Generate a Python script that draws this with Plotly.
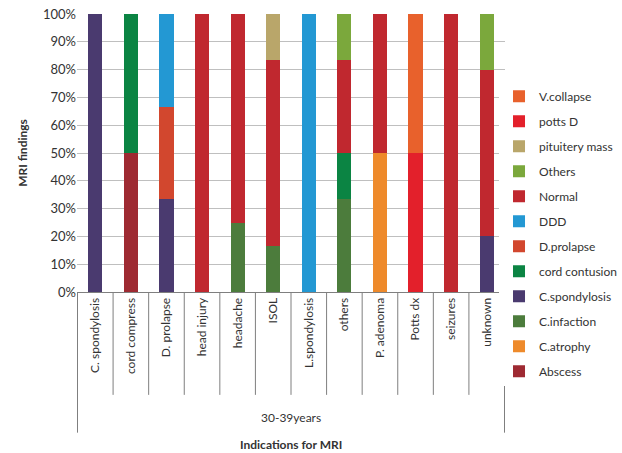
import plotly.graph_objects as go

categories = ["C. spondylosis", "cord compress", "D. prolapse", "head injury", "headache", "ISOL",
              "L.spondylosis", "others", "P. adenoma", "Potts dx", "seizures", "unknown"]
group_label = "30-39years"

# percentages per finding (bottom to top stacking order)
Abscess        = [0, 50, 0, 0, 0, 0, 0, 0, 0, 0, 0, 0]
C_atrophy      = [0, 0, 0, 0, 0, 0, 0, 0, 50, 0, 0, 0]
C_infaction    = [0, 0, 0, 0, 25, 16.67, 0, 33.33, 0, 0, 0, 0]
C_spondylosis  = [100, 0, 33.33, 0, 0, 0, 0, 0, 0, 0, 0, 20]
cord_contusion = [0, 50, 0, 0, 0, 0, 0, 16.67, 0, 0, 0, 0]
D_prolapse     = [0, 0, 33.33, 0, 0, 0, 0, 0, 0, 0, 0, 0]
DDD            = [0, 0, 33.34, 0, 0, 0, 100, 0, 0, 0, 0, 0]
Normal         = [0, 0, 0, 100, 75, 66.66, 0, 33.33, 50, 0, 100, 60]
Others         = [0, 0, 0, 0, 0, 0, 0, 16.67, 0, 0, 0, 20]
pituitery_mass = [0, 0, 0, 0, 0, 16.67, 0, 0, 0, 0, 0, 0]
potts_D        = [0, 0, 0, 0, 0, 0, 0, 0, 0, 50, 0, 0]
V_collapse     = [0, 0, 0, 0, 0, 0, 0, 0, 0, 50, 0, 0]

series = [
    ("Abscess", Abscess, "#9E2A32"),
    ("C.atrophy", C_atrophy, "#EE8A2B"),
    ("C.infaction", C_infaction, "#4C7C3C"),
    ("C.spondylosis", C_spondylosis, "#4A3A6F"),
    ("cord contusion", cord_contusion, "#0B8443"),
    ("D.prolapse", D_prolapse, "#D2472E"),
    ("DDD", DDD, "#2398D3"),
    ("Normal", Normal, "#C0282F"),
    ("Others", Others, "#7BA83C"),
    ("pituitery mass", pituitery_mass, "#B9A66A"),
    ("potts D", potts_D, "#E3202B"),
    ("V.collapse", V_collapse, "#E8612C"),
]

FONT = "Lato, Open Sans, sans-serif"
TXT = "#333333"
FS = 12

fig = go.Figure()
for i, (name, vals, col) in enumerate(series):
    fig.add_trace(go.Bar(x=categories, y=vals, name=name, marker_color=col,
                         marker_line_width=0, legendgroup=name,
                         legendrank=1000 - i))

fig.update_layout(
    barmode="stack", bargap=0.6,
    width=622, height=453,
    margin=dict(l=77, r=117, t=14, b=161, autoexpand=False),
    paper_bgcolor="white", plot_bgcolor="white",
    font=dict(family=FONT, size=FS, color=TXT),
    legend=dict(x=0.986, y=0.756, xanchor="left", yanchor="top",
                traceorder="grouped", tracegroupgap=6, maxheight=420,
                font=dict(size=FS, color=TXT), itemwidth=30),
    showlegend=True,
)
fig.update_yaxes(range=[0, 100], dtick=10, ticksuffix="%", showgrid=True,
                 gridcolor="#BFBFBF", gridwidth=1, zeroline=False, showline=False,
                 tickfont=dict(size=13, color=TXT),
                 title=dict(text="<b>MRI findings</b>", font=dict(size=FS, color=TXT), standoff=12))
fig.update_xaxes(tickangle=-90, showline=True, linecolor="#7F7F7F", linewidth=1,
                 ticks="", tickfont=dict(size=FS, color=TXT))

# category dividers below the axis
n = len(categories)
for i in range(n + 1):
    x = i - 0.5
    y1 = -0.506 if i in (0, n) else -0.37
    fig.add_shape(type="line", xref="x", yref="paper", x0=x, x1=x, y0=0, y1=y1,
                  line=dict(color="#7F7F7F", width=1))

fig.add_annotation(text=group_label, xref="paper", yref="paper", x=0.5, y=-0.45,
                   yanchor="middle", showarrow=False, font=dict(size=FS, color=TXT))
fig.add_annotation(text="<b>Indications for MRI</b>", xref="paper", yref="paper", x=0.5, y=-0.55,
                   yanchor="middle", showarrow=False, font=dict(size=FS, color=TXT))

fig.write_html("out.html")
